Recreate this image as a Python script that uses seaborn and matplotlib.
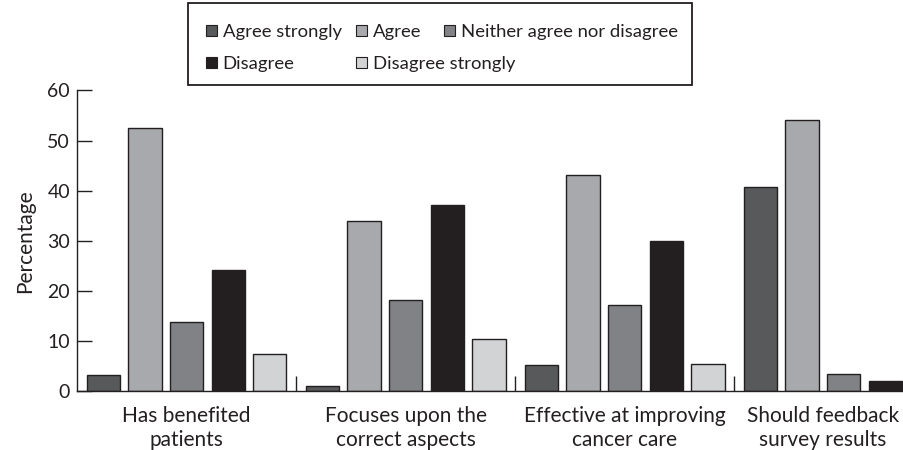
import matplotlib
matplotlib.use('Agg')
import matplotlib.pyplot as plt
import matplotlib.transforms as mtrans
from matplotlib.patches import Patch, Rectangle
import pandas as pd
import seaborn as sns

# data
questions = ['Has benefited\npatients', 'Focuses upon the\ncorrect aspects',
             'Effective at improving\ncancer care', 'Should feedback\nsurvey results']
responses = ['Agree strongly', 'Agree', 'Neither agree nor disagree',
             'Disagree', 'Disagree strongly']
agree_strongly = [3.1, 1.0, 5.2, 40.8]
agree = [52.5, 33.9, 43.1, 54.1]
neither = [13.7, 18.1, 17.1, 3.3]
disagree = [24.1, 37.1, 30.0, 2.0]
disagree_strongly = [7.3, 10.4, 5.3, 0.0]
colours = ['#58595b', '#a7a9ac', '#808285', '#231f20', '#d1d3d4']

series = [agree_strongly, agree, neither, disagree, disagree_strongly]
df = pd.DataFrame({
    'question': questions * len(responses),
    'response': [r for r in responses for _ in questions],
    'pct': [v for s in series for v in s],
})

sns.set_style('white')
plt.rcParams['font.family'] = ['Lato', 'DejaVu Sans']
ink = '#231f20'

fig = plt.figure(figsize=(9.04, 4.5), dpi=100)
ax = fig.add_axes([77 / 904, 59 / 450, 827 / 904, 300.5 / 450])

sns.barplot(data=df, x='question', y='pct', hue='response', hue_order=responses,
            palette=colours, saturation=1, width=0.95, gap=0.2,
            edgecolor=ink, linewidth=1, legend=False, ax=ax)

ax.set_xlim(-0.5, 3.275)
ax.set_ylim(0, 60)
ax.set_yticks(range(0, 61, 10))
sns.despine(ax=ax)
for side in ['left', 'bottom']:
    ax.spines[side].set_color(ink)
    ax.spines[side].set_linewidth(1)

ax.tick_params(axis='y', left=True, direction='in', length=10.8, width=1,
               color=ink, labelsize=14, pad=5, labelcolor=ink)
ax.tick_params(axis='x', which='major', bottom=False, labelsize=15, pad=7,
               labelcolor=ink)
ax.set_xticks([0.5, 1.5, 2.5], minor=True)
ax.tick_params(axis='x', which='minor', bottom=True, direction='in',
               length=10.5, width=1, color=ink)
for lab in ax.get_xticklabels():
    lab.set_linespacing(1.3)
# last label pulled left so it fits inside the figure
last = ax.get_xticklabels()[-1]
last.set_transform(last.get_transform() +
                   mtrans.ScaledTranslation(-21 / 100, 0, fig.dpi_scale_trans))

ax.set_xlabel('')
ax.set_ylabel('Percentage', fontsize=15, color=ink, labelpad=9)

# legend: boxed, two rows, entries placed where they sit in the original
handles = [Patch(facecolor=c, edgecolor=ink, linewidth=0.8) for c in colours]
spots = [(206, 24), (356, 24), (444, 24), (206, 56), (356, 56)]
for h, lab, (px, py) in zip(handles, responses, spots):
    fig.legend([h], [lab], loc='upper left',
               bbox_to_anchor=(px / 904, 1 - py / 450), frameon=False,
               handlelength=0.6, handleheight=0.6, handletextpad=0.3,
               borderpad=0, borderaxespad=0, fontsize=13.3, labelcolor=ink)
fig.add_artist(Rectangle((188 / 904, 1 - 85 / 450), 504 / 904, 82 / 450,
                         transform=fig.transFigure, fill=False,
                         edgecolor=ink, linewidth=1.3))

fig.savefig('out.png', dpi=100)
